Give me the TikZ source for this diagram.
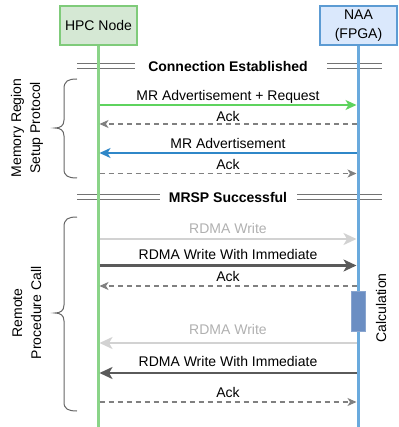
\documentclass[tikz,border=0pt]{standalone}
\usepackage{fontspec}
\setmainfont{Liberation Sans}
\usetikzlibrary{arrows.meta}
\definecolor{hpcfill}{HTML}{D5E8D4}
\definecolor{hpcline}{HTML}{8AD488}
\definecolor{hpcdraw}{HTML}{7FCB7A}
\definecolor{naafill}{HTML}{DAE8FC}
\definecolor{naaline}{HTML}{6AAADD}
\definecolor{naadraw}{HTML}{5C9BD3}
\definecolor{greenarr}{HTML}{5ED35E}
\definecolor{bluearr}{HTML}{2F87C8}
\definecolor{darkarr}{HTML}{5A5A5A}
\definecolor{lightarr}{HTML}{D2D2D2}
\definecolor{lighttxt}{HTML}{B0B0B0}
\definecolor{dashcol}{HTML}{808080}
\definecolor{calcfill}{HTML}{6B8EC3}
\definecolor{bracecol}{HTML}{666666}
\tikzset{
  x=1pt,y=-1pt,
  every node/.style={font=\fontsize{14}{19}\selectfont, inner sep=0pt},
  actorbox/.style={draw, line width=1.2pt, minimum width=77pt, minimum height=39pt, align=center},
  lifeline/.style={line width=3pt},
  sepline/.style={draw=dashcol!90!black, line width=1.1pt},
  msggreen/.style={draw=greenarr, line width=1.4pt, -{Stealth[length=11pt,width=10pt,inset=3pt]}},
  msgblue/.style={draw=bluearr, line width=1.4pt, -{Stealth[length=11pt,width=10pt,inset=3pt]}},
  msgdark/.style={draw=darkarr, line width=2.2pt, -{Stealth[length=13pt,width=12pt,inset=3.5pt]}},
  msglight/.style={draw=lightarr, line width=2.2pt, -{Stealth[length=13pt,width=12pt,inset=3.5pt]}},
  msgack/.style={draw=dashcol, line width=1.1pt, dash pattern=on 5pt off 4pt, -{Stealth[length=9pt,width=8pt,inset=2.5pt]}},
  bracestyle/.style={draw=bracecol, line width=1pt},
  msglabel/.style={anchor=center},
}
\begin{document}
\begin{tikzpicture}
\useasboundingbox (0,0) rectangle (398,427);

% separator double lines
\coordinate (ceL1) at (77,63.5); \coordinate (ceL2) at (135,63.5);
\coordinate (ceL3) at (77,68.5); \coordinate (ceL4) at (135,68.5);
\coordinate (ceR1) at (327,63.5); \coordinate (ceR2) at (382,63.5);
\coordinate (ceR3) at (327,68.5); \coordinate (ceR4) at (382,68.5);
\draw[sepline] (ceL1) -- (ceL2); \draw[sepline] (ceL3) -- (ceL4);
\draw[sepline] (ceR1) -- (ceR2); \draw[sepline] (ceR3) -- (ceR4);
\node[font=\fontsize{14}{17}\selectfont\bfseries] (ce) at (228,66) {Connection Established};

\coordinate (msL1) at (77,194.5); \coordinate (msL2) at (160,194.5);
\coordinate (msL3) at (77,199.5); \coordinate (msL4) at (160,199.5);
\coordinate (msR1) at (297,194.5); \coordinate (msR2) at (382,194.5);
\coordinate (msR3) at (297,199.5); \coordinate (msR4) at (382,199.5);
\draw[sepline] (msL1) -- (msL2); \draw[sepline] (msL3) -- (msL4);
\draw[sepline] (msR1) -- (msR2); \draw[sepline] (msR3) -- (msR4);
\node[font=\fontsize{14}{17}\selectfont\bfseries] (ms) at (228,197.5) {MRSP Successful};

% actors
\node[actorbox, fill=hpcfill, draw=hpcdraw] (hpc) at (98.5,25.5) {HPC Node};
\node[actorbox, fill=naafill, draw=naadraw] (naa) at (358.5,25.5) {NAA\\(FPGA)};
\coordinate (hpcend) at (98,427);
\coordinate (naaend) at (358,427);
\draw[lifeline, draw=hpcline] (hpc.south -| hpcend) -- (hpcend);
\draw[lifeline, draw=naaline] (naa.south -| naaend) -- (naaend);

% message end points
\foreach \i/\y in {1/105,2/124,3/153,4/173.5,5/239,6/265.5,7/286,8/343,9/373,10/402}{
  \coordinate (h\i) at (99.5,\y);
  \coordinate (n\i) at (356.5,\y);
}

% calculation block
\node[draw=calcfill!80!white, fill=calcfill, line width=0.6pt, minimum width=14pt, minimum height=40pt] (calc) at (358,311) {};
\node[rotate=90] (calctxt) at (381,308) {Calculation};

% messages
\draw[msggreen] (h1) -- (n1);
\node[msglabel] (l1) at (228,97) {MR Advertisement + Request};
\draw[msgack] (n2) -- (h2);
\node[msglabel] (l2) at (228,116.5) {Ack};
\draw[msgblue] (n3) -- (h3);
\node[msglabel] (l3) at (228,143.5) {MR Advertisement};
\draw[msgack] (h4) -- (n4);
\node[msglabel] (l4) at (228,164.5) {Ack};
\draw[msglight] (h5) -- (n5);
\node[msglabel, text=lighttxt] (l5) at (228,228) {RDMA Write};
\draw[msgdark] (h6) -- (n6);
\node[msglabel] (l6) at (228,254) {RDMA Write With Immediate};
\draw[msgack] (n7) -- (h7);
\node[msglabel] (l7) at (228,276) {Ack};
\draw[msglight] (n8) -- (h8);
\node[msglabel, text=lighttxt] (l8) at (228,329) {RDMA Write};
\draw[msgdark] (n9) -- (h9);
\node[msglabel] (l9) at (228,361) {RDMA Write With Immediate};
\draw[msgack] (h10) -- (n10);
\node[msglabel] (l10) at (228,392.5) {Ack};

% braces
\draw[bracestyle] (77,79) .. controls (68,79) and (64,81) .. (64,89) -- (64,120)
  .. controls (64,126) and (60,128) .. (55,128) .. controls (60,128) and (64,130) .. (64,136)
  -- (64,169) .. controls (64,176) and (68,178) .. (77,178);
\draw[bracestyle] (77,217) .. controls (68,217) and (64,219) .. (64,227) -- (64,305)
  .. controls (64,311) and (60,313) .. (55,313) .. controls (60,313) and (64,315) .. (64,321)
  -- (64,402) .. controls (64,409) and (68,411) .. (77,411);

\node[rotate=90, align=center] (g1) at (27,128) {Memory Region\\Setup Protocol};
\node[rotate=90, align=center] (g2) at (27,313) {Remote\\Procedure Call};
\end{tikzpicture}
\end{document}
